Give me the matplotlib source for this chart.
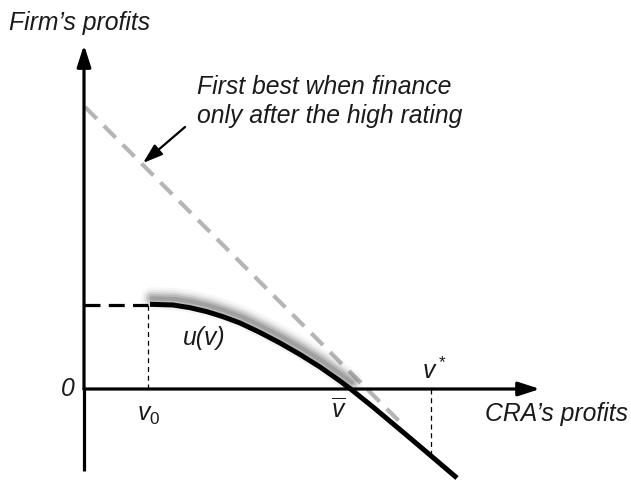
import matplotlib
matplotlib.use("Agg")
import matplotlib.pyplot as plt
import matplotlib.transforms as mtransforms

plt.rcParams['font.family'] = ['Liberation Sans', 'DejaVu Sans']
plt.rcParams['mathtext.fontset'] = 'custom'
plt.rcParams['mathtext.it'] = 'Liberation Sans:italic'
plt.rcParams['mathtext.rm'] = 'Liberation Sans'

# ---- data ----
v_curve = [66, 89, 106, 123, 139, 156, 176, 196, 216, 236, 256, 266, 289, 323, 346, 373]
u_curve = [84.7, 84, 81.3, 77.3, 72.3, 66, 56.5, 46, 34.5, 22, 8, 0.5, -18, -46.5, -66, -89]
first_best_v = [1, 320]
first_best_u = [282, -37]
v0 = 64
u0 = 84
v_bar = 266
v_star = 347
u_at_vstar = -66
x_axis_end = 456
y_axis_top = 344
y_axis_bottom = -82

fig = plt.figure(figsize=(6.31, 4.83), dpi=100)
ax = fig.add_axes([0, 0, 1, 1])
ax.set_xlim(-84, 547)
ax.set_ylim(-94, 389)
ax.axis('off')

# axes with arrows
arrow_style = '-|>,head_length=1.3,head_width=0.42'
ax.plot([0, 0], [y_axis_bottom, 0], color='black', lw=2.3, solid_capstyle='butt')
ax.annotate('', xy=(0, y_axis_top), xytext=(0, 0),
            arrowprops=dict(arrowstyle=arrow_style, lw=2.3, color='black',
                            shrinkA=0, shrinkB=0, mutation_scale=10))
ax.annotate('', xy=(x_axis_end, 0), xytext=(0, 0),
            arrowprops=dict(arrowstyle=arrow_style, lw=2.3, color='black',
                            shrinkA=0, shrinkB=0, mutation_scale=10))

# first-best gray dashed line
ax.plot(first_best_v, first_best_u, color='#b5b5b5', lw=3, dashes=(4, 2.4))

# reservation dashed line and thin verticals
ax.plot([0, v0], [u0, u0], color='black', lw=2.3, dashes=(5, 2.6))
ax.plot([v0, v0], [0, u0], color='black', lw=0.9, dashes=(4, 3))
ax.plot([v_star, v_star], [0, u_at_vstar], color='black', lw=0.9, dashes=(4, 3))

# shadow (glow) of the curve, drawn for the part above the horizontal axis
shadow_tr = mtransforms.offset_copy(ax.transData, fig=fig, x=2, y=6, units='dots')
n_sh = 12
for lw, a in [(16, 0.05), (12, 0.08), (9, 0.12), (6, 0.16), (3, 0.2)]:
    ax.plot(v_curve[:n_sh], u_curve[:n_sh], color='#404040', lw=lw, alpha=a,
            solid_capstyle='round', solid_joinstyle='round', transform=shadow_tr)

# u(v) curve
ax.plot(v_curve, u_curve, color='black', lw=3.6, solid_capstyle='butt',
        solid_joinstyle='round')

# annotation arrow
ax.annotate('', xy=(59, 226), xytext=(101, 262),
            arrowprops=dict(arrowstyle='-|>,head_length=1.2,head_width=0.4',
                            lw=1.6, color='black', shrinkA=0, shrinkB=0,
                            mutation_scale=10))

fs = 17.8
kw = dict(fontsize=fs, style='italic', color='#1a1a1a')
ax.text(-75, 366, "Firm\u2019s profits", ha='left', va='center', **kw)
ax.text(113, 302, "First best when finance", ha='left', va='center', **kw)
ax.text(113, 273, "only after the high rating", ha='left', va='center', **kw)
ax.text(-9, 0, "0", ha='right', va='center', **kw)
ax.text(401, -25, "CRA\u2019s profits", ha='left', va='center', **kw)
ax.text(120, 51, "u(v)", ha='center', va='center', **kw)
ax.text(65, -26, r"$v_0$", ha='center', va='center', **kw)
ax.text(255, -21, r"$\overline{v}$", ha='center', va='center', **kw)
ax.text(350, 18, r"$v^*$", ha='center', va='center', **kw)

fig.savefig("out.png", dpi=100)
